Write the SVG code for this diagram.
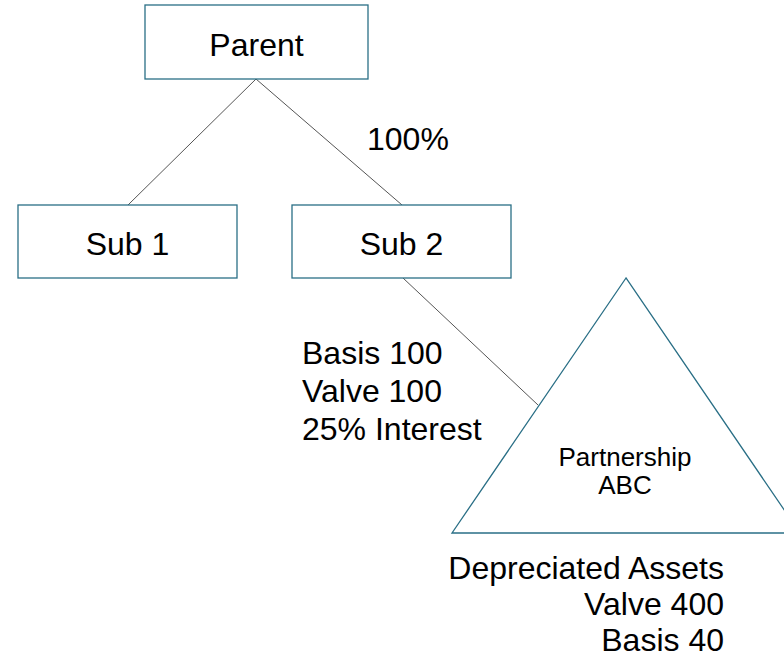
<svg xmlns="http://www.w3.org/2000/svg" width="784" height="659" viewBox="0 0 784 659">
  <style>
    .box { fill: #ffffff; stroke: #2a6f86; stroke-width: 1.3; }
    .link { fill: none; stroke: #555555; stroke-width: 1; }
    .t { font-family: "Liberation Sans", Arial, sans-serif; fill: #000000; }
    .big { font-size: 32px; }
    .small { font-size: 26px; }
  </style>
  <rect width="784" height="659" fill="#ffffff"/>

  <g id="connectors">
    <line class="link" x1="256" y1="79" x2="128" y2="205"/>
    <line class="link" x1="256" y1="79" x2="402" y2="205"/>
    <line class="link" x1="403" y1="278" x2="538" y2="405"/>
  </g>

  <g id="parent">
    <rect class="box" x="145" y="5" width="223" height="74"/>
    <text class="t big" x="256.5" y="56" text-anchor="middle">Parent</text>
  </g>

  <g id="sub1">
    <rect class="box" x="18" y="205" width="219" height="73"/>
    <text class="t big" x="127.5" y="255" text-anchor="middle">Sub 1</text>
  </g>

  <g id="sub2">
    <rect class="box" x="292" y="205" width="219" height="73"/>
    <text class="t big" x="401.5" y="255" text-anchor="middle">Sub 2</text>
  </g>

  <g id="partnership">
    <polygon class="box" points="626,278 452,533 800,533"/>
    <text class="t small" x="625" y="466" text-anchor="middle">Partnership</text>
    <text class="t small" x="625" y="494" text-anchor="middle">ABC</text>
  </g>

  <g id="labels">
    <text class="t big" x="367" y="150">100%</text>
    <text class="t big" x="302" y="364">Basis 100</text>
    <text class="t big" x="302" y="402">Valve 100</text>
    <text class="t big" x="302" y="440">25% Interest</text>
    <text class="t big" x="724" y="579" text-anchor="end">Depreciated Assets</text>
    <text class="t big" x="724" y="615" text-anchor="end">Valve 400</text>
    <text class="t big" x="724" y="651" text-anchor="end">Basis 40</text>
  </g>
</svg>
